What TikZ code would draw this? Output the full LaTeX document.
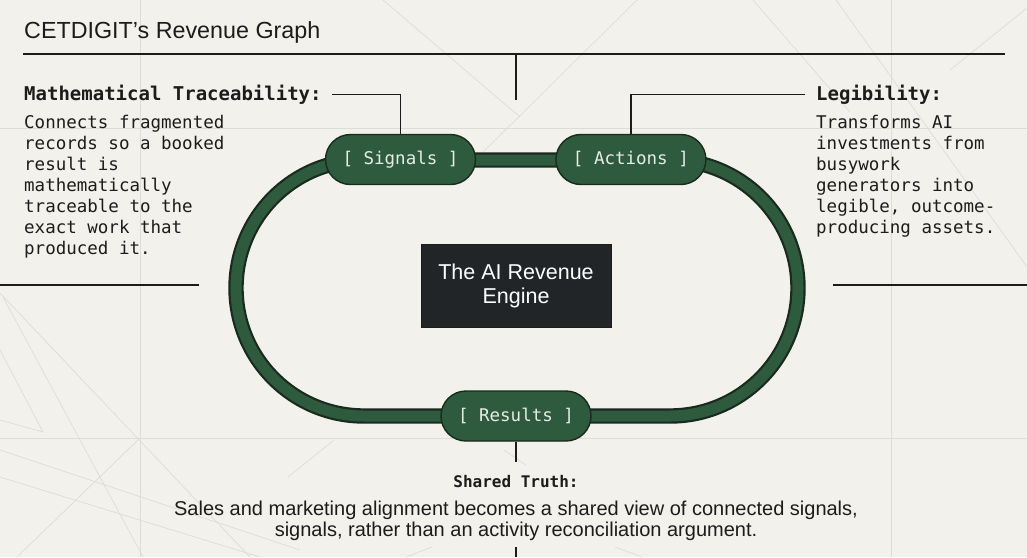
\documentclass[tikz,border=0pt]{standalone}
\usepackage{fontspec}
\setmainfont{Liberation Sans}
\setmonofont{DejaVu Sans Mono}
\usepackage{xcolor}
\usepackage{tikz}
\usetikzlibrary{positioning}

\definecolor{paper}{HTML}{F2F1EC}
\definecolor{ink}{HTML}{1C1C1C}
\definecolor{trackgreen}{HTML}{2E5A3D}
\definecolor{pilledge}{HTML}{1A2A1F}
\definecolor{pilltext}{HTML}{E6ECE6}
\definecolor{enginebox}{HTML}{222528}
\definecolor{faintline}{HTML}{DDDCD6}

\begin{document}
\begin{tikzpicture}[x=1pt, y=-1pt,
    pill/.style={draw=pilledge, line width=1.4pt, fill=trackgreen,
                 rounded corners=25pt, minimum width=150pt,
                 minimum height=50pt, inner sep=0pt, text=pilltext,
                 font=\fontsize{17.5}{20}\selectfont\ttfamily},
    head/.style={anchor=base west, inner sep=0pt, text=ink,
                 font=\fontsize{19}{21}\selectfont\ttfamily\bfseries},
    body/.style={anchor=north west, inner sep=0pt, align=left, text=ink,
                 font=\fontsize{17.5}{21}\selectfont\ttfamily},
    link/.style={draw=ink, line width=1.3pt},
    rule/.style={draw=ink, line width=1.5pt},
    faint/.style={draw=faintline, line width=0.7pt},
    track/.style={draw=pilledge, line width=2.2pt, double=trackgreen,
                  double distance=11pt}
  ]
    \useasboundingbox[fill=paper] (0,0) rectangle (1027,557);
    % Background grid
    \draw[faint] (140,0) -- (140,557);
    \draw[faint] (891,0) -- (891,557);
    \draw[faint] (0,128) -- (1027,128);
    \draw[faint] (0,438) -- (1027,438);
    \draw[faint] (637,0) -- (470,165);
    \draw[faint] (383,0) -- (520,117);
    \draw[faint] (753,0) -- (850,112);
    \draw[faint] (836,0) -- (1027,267);
    \draw[faint] (1027,8) -- (950,70);
    \draw[faint] (0,293) -- (250,557);
    \draw[faint] (3,297) -- (143,557);
    \draw[faint] (0,350) -- (43,432) -- (0,420);
    \draw[faint] (0,450) -- (300,550);
    \draw[faint] (0,477) -- (260,557);
    \draw[faint] (140,438) -- (17,557);
    \draw[faint] (288,477) -- (334,440);
    \draw[faint] (504,450) -- (526,465);
    \draw[faint] (406,557) -- (432,547);
    \draw[faint] (615,547) -- (642,557);

    % Rules
    \coordinate (ruleL) at (23,54);
    \coordinate (ruleR) at (1005,54);
    \coordinate (tickT) at (516,54);
    \coordinate (tickB) at (516,100);
    \coordinate (sideL1) at (0,285);
    \coordinate (sideL2) at (199,285);
    \coordinate (sideR1) at (833,285);
    \coordinate (sideR2) at (1027,285);
    \coordinate (tickEnd) at (516,557);
    \draw[rule] (ruleL) -- (ruleR);
    \draw[rule] (tickT) -- (tickB);
    \draw[rule] (sideL1) -- (sideL2);
    \draw[rule] (sideR1) -- (sideR2);

    % Loop
    \draw[track, rounded corners=128pt] (236,160) rectangle (798,416);
    \node[pill] (sig) at (400.5,159.5) {[ Signals ]};
    \node[pill, right=79pt of sig] (act) {[ Actions ]};
    \node[pill] (res) at (516,416) {[ Results ]};
    \node[draw=ink, fill=enginebox, minimum width=190pt, minimum height=83pt,
          text=white, align=center, font=\fontsize{21.5}{24}\selectfont]
          (engine) at (516,285.5) {The AI Revenue\\Engine};

    % Texts
    \node[anchor=base west, inner sep=0pt, text=ink,
          font=\fontsize{23.3}{26}\selectfont] (title) at (24,38)
          {CETDIGIT’s Revenue Graph};
    \node[head] (trace) at (24,100) {Mathematical Traceability:};
    \node[body] (tracetxt) at (24,115) {Connects fragmented\\records so a booked\\result is\\mathematically\\traceable to the\\exact work that\\produced it.};
    \node[head] (legi) at (816,100) {Legibility:};
    \node[body] (legitxt) at (816,115) {Transforms AI\\investments from\\busywork\\generators into\\legible, outcome-\\producing assets.};
    \node[anchor=base, inner sep=0pt, text=ink,
          font=\fontsize{16}{18}\selectfont\ttfamily\bfseries]
          (shared) at (516,487) {Shared Truth:};
    \node[below=13pt of shared, inner sep=0pt, align=center, text=ink,
          font=\fontsize{20}{21}\selectfont] (truthtxt)
          {Sales and marketing alignment becomes a shared view of connected signals,\\signals, rather than an activity reconciliation argument.};

    % Connectors
    \draw[link, shorten <=10pt] (trace.east) -| (sig.north);
    \draw[link, shorten <=11pt] (legi.west) -| (act.north);
    \draw[link, shorten >=13pt] (res.south) -- (shared.north);
    \draw[link, shorten <=7pt] (truthtxt.south) -- (tickEnd);
  \end{tikzpicture}
\end{document}
